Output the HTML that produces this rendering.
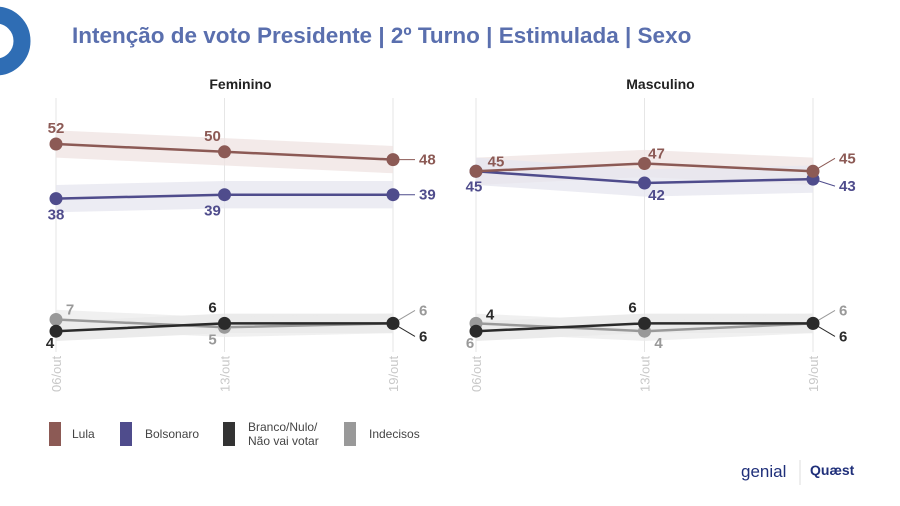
<!DOCTYPE html>
<html><head><meta charset="utf-8"><style>
body{margin:0;width:900px;height:501px;background:#fff;overflow:hidden;font-family:"Liberation Sans",sans-serif}
</style></head><body>
<svg id="chart" width="900" height="501" xmlns="http://www.w3.org/2000/svg">
<circle cx="-4" cy="41" r="26" fill="none" stroke="#2f6db4" stroke-width="17"/>
<text x="72" y="43" font-size="22.5" font-weight="bold" fill="#5a6fae">Intenção de voto Presidente | 2º Turno | Estimulada | Sexo</text>
<g id="plots"></g>
<g font-size="12" fill="#444">
<rect x="49" y="422" width="12" height="24" fill="#8c5a55"/><text x="72" y="438">Lula</text>
<rect x="120" y="422" width="12" height="24" fill="#4f4c8c"/><text x="145" y="438">Bolsonaro</text>
<rect x="223" y="422" width="12" height="24" fill="#333"/><text x="248" y="431">Branco/Nulo/</text><text x="248" y="445">Não vai votar</text>
<rect x="344" y="422" width="12" height="24" fill="#999"/><text x="369" y="438">Indecisos</text>
</g>
<g>
<text x="741" y="477" font-size="17" fill="#1f2f7a">genial</text>
<line x1="800" y1="460" x2="800" y2="485" stroke="#ddd"/>
<text x="810" y="475" font-size="14" font-weight="bold" fill="#1f2f7a">Quæst</text>
</g>
</svg>
<script>
const dates=["06/out","13/out","19/out"];
const panels=["Feminino","Masculino"];
const femLula=[52,50,48], femBolso=[38,39,39], femBranco=[4,6,6], femIndec=[7,5,6];
const masLula=[45,47,45], masBolso=[45,42,43], masBranco=[4,6,6], masIndec=[6,4,6];
const colors={lula:"#8c5a55",bolso:"#4f4c8c",branco:"#2a2a2a",indec:"#999999"};
const bands={lula:"#efe3e2",bolso:"#e5e5ef",branco:"#e4e4e4",indec:"#ebebeb"};
const NS="http://www.w3.org/2000/svg";
const g=document.getElementById("plots");
function yS(v){return 144+(52-v)*3.9;}
const xStarts=[56,476], step=168.5;
function mk(tag,attrs,parent){const e=document.createElementNS(NS,tag);for(const k in attrs)e.setAttribute(k,attrs[k]);(parent||g).appendChild(e);return e;}
const data=[{lula:femLula,bolso:femBolso,branco:femBranco,indec:femIndec},{lula:masLula,bolso:masBolso,branco:masBranco,indec:masIndec}];
panels.forEach((p,pi)=>{
  const xS=i=>xStarts[pi]+i*step;
  const t=mk("text",{x:xS(1)+16,y:89,"font-size":14,"font-weight":"bold",fill:"#222","text-anchor":"middle"});
  t.textContent=p;
  
  
  dates.forEach((d,i)=>{
    const l=mk("line",{x1:xS(i),x2:xS(i),y1:98,y2:352,stroke:"#e6e6e6"});
    
    
    const tx=mk("text",{transform:`translate(${xS(i)+5},392) rotate(-90)`,"font-size":13,fill:"#c8c8c8"});
    tx.textContent=d;
    
    
  });
  const D=data[pi];
  ["lula","bolso","branco","indec"].forEach(s=>{
    const vals=D[s];
    const w=(s==="lula"||s==="bolso")?3.5:2.5;
    const up=vals.map((v,i)=>xS(i)+","+yS(v+w)).join(" ");
    const dn=vals.map((v,i)=>xS(i)+","+yS(v-w)).reverse().join(" ");
    const b=mk("polygon",{points:up+" "+dn,fill:bands[s],opacity:0.75});
    
    
  });
  ["indec","branco","bolso","lula"].forEach(s=>{
    const vals=D[s];
    const pl=mk("polyline",{points:vals.map((v,i)=>xS(i)+","+yS(v)).join(" "),fill:"none",stroke:colors[s],"stroke-width":2.5});
    
    
    vals.forEach((v,i)=>{
      const c=mk("circle",{cx:xS(i),cy:yS(v),r:6.5,fill:colors[s]});
      
      
      let lx=xS(i),ly,anchor="middle";
      const above=(s==="lula"||(s==="branco"&&i>0)||(s==="indec"&&i===0));
      if(i===2){lx=xS(i)+26;anchor="start";ly=yS(v)+5;
        if(s==="indec"||s==="lula"&&pi===1){ly=yS(v)-8;}
        if(s==="branco"){ly=yS(v)+18;}
        if(s==="bolso"&&pi===1){ly=yS(v)+12;}
        mk("line",{x1:xS(i),y1:yS(v),x2:lx-4,y2:ly-5,stroke:colors[s],"stroke-width":1});
      } else {
        ly=above?yS(v)-11:yS(v)+21;
        if(i===1)lx-=12;
        if(s==="indec"&&i===0){lx+=14;ly=yS(v)-5;}
        if(s==="branco"&&i===0){lx-=6;ly=yS(v)+17;}
        if(pi===1&&i===0){
          if(s==="lula"){lx+=20;ly=yS(v)-5;}
          if(s==="bolso"){lx-=2;ly=yS(v)+20;}
          if(s==="branco"){lx=xS(0)+14;ly=yS(6)-4;}
          if(s==="indec"){lx=xS(0)-6;ly=yS(4)+17;}
        }
        if(pi===1&&i===1){if(s==="lula"){lx+=24;ly=yS(v)-5;} if(s==="bolso"){lx+=24;ly=yS(v)+17;} if(s==="indec"){lx+=26;ly=yS(v)+17;}}
        if(pi===0&&i===1&&s==="indec"){ly=yS(v)+17;}
      }
      const lt=mk("text",{x:lx,y:ly,"font-size":15,"font-weight":"bold",fill:colors[s],"text-anchor":anchor});
      lt.textContent=v;
      
      
    });
  });
});
</script>
</body></html>
